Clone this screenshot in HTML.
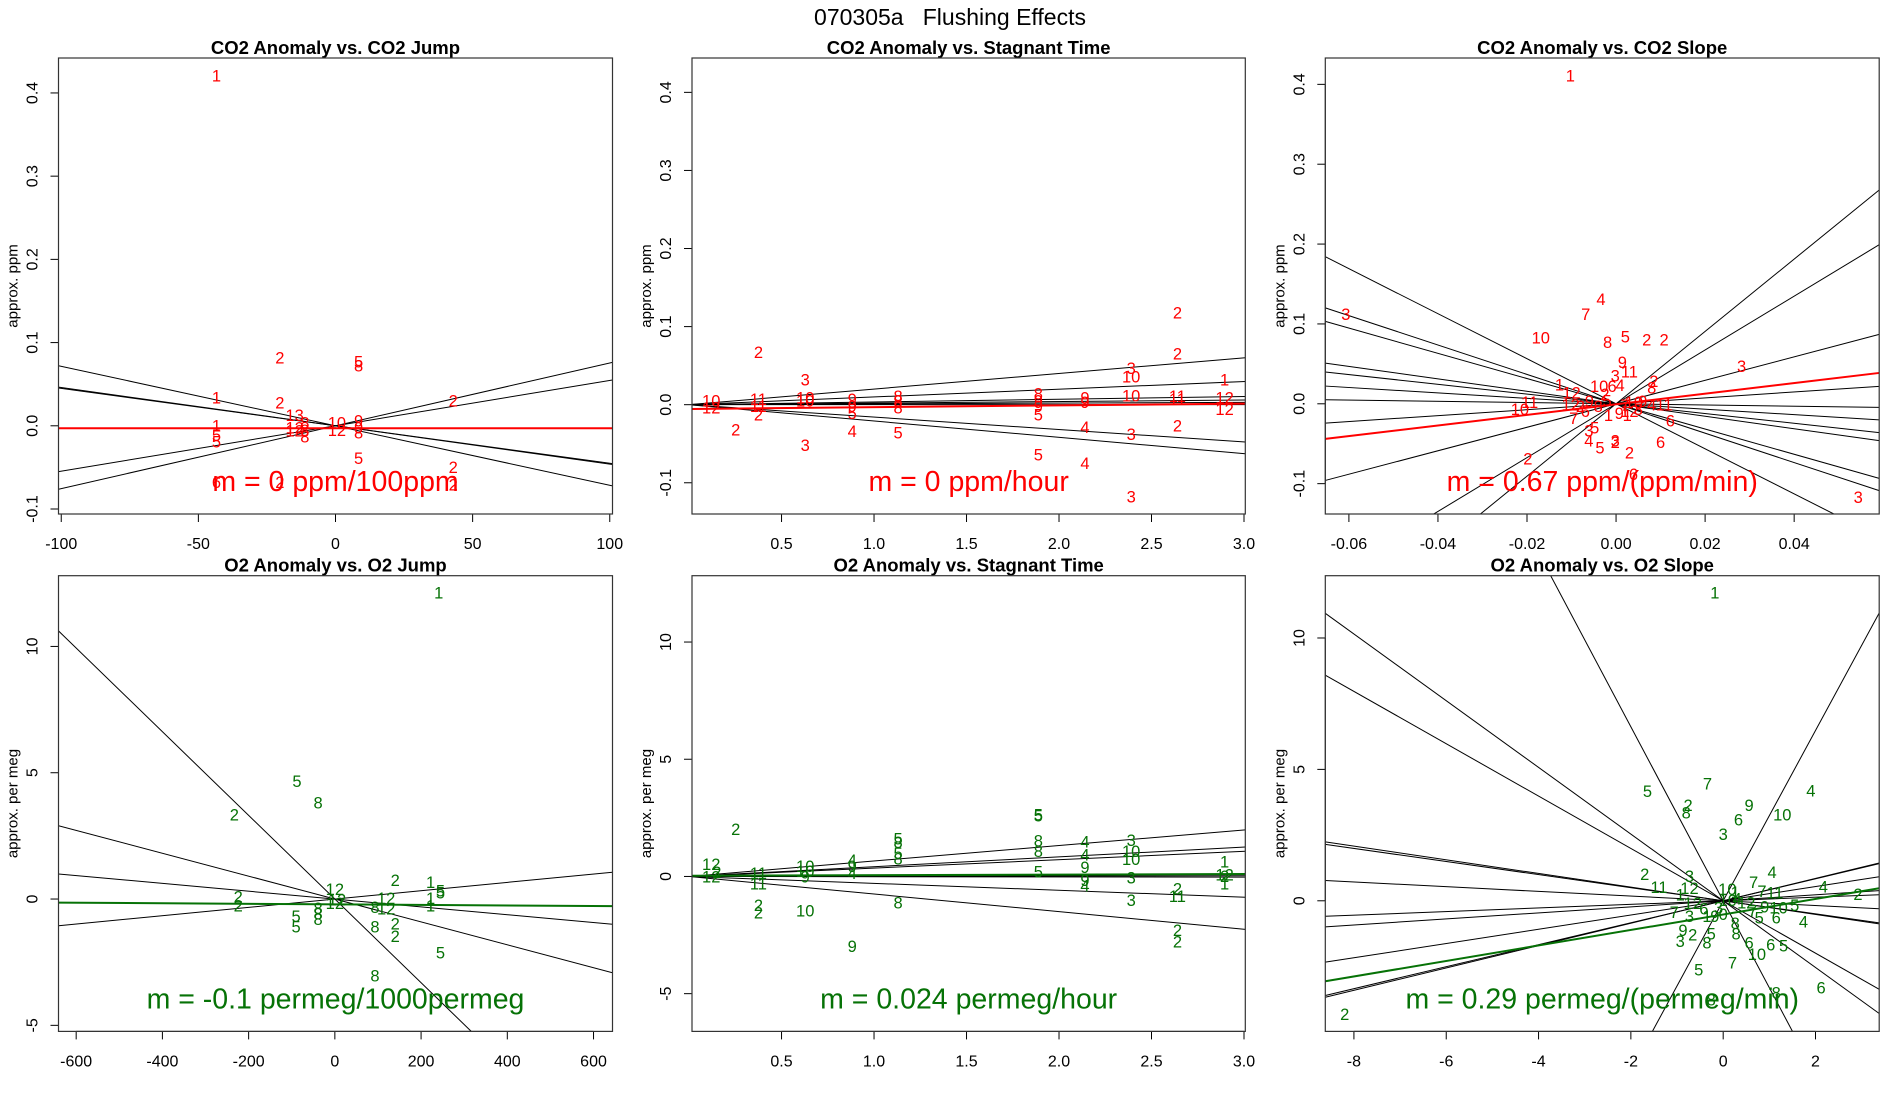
<!DOCTYPE html>
<html><head><meta charset="utf-8"><style>
html,body{margin:0;padding:0;background:#fff;width:1900px;height:1100px;overflow:hidden;}
svg{display:block;font-family:"Liberation Sans",Arial,sans-serif;}
</style></head><body>
<svg id="chart" width="1900" height="1100" viewBox="0 0 1900 1100" xmlns="http://www.w3.org/2000/svg">
<rect x="0" y="0" width="1900" height="1100" fill="#fff"/>
<text x="950" y="25" font-size="23" text-anchor="middle" fill="#000" xml:space="preserve">070305a   Flushing Effects</text>
</svg>
<script>
// ---- Panel 1: CO2 Anomaly vs. CO2 Jump ----
const p1X=[-43.4,-20.3,8.4,8.4,-43.4,-20.3,42.9,-14.9,-43.4,-43.4,-43.4,-14.9,-14.9,-11.2,-11.2,-11.2,0.5,0.5,8.4,8.4,8.4,8.4,42.9,42.9,-43.4,-20.3];
const p1Y=[0.42,0.081,0.076,0.071,0.033,0.027,0.029,0.012,-0.001,-0.012,-0.02,-0.003,-0.007,0.003,-0.014,-0.006,0.003,-0.006,0.005,-0.003,-0.009,-0.04,-0.051,-0.072,-0.069,-0.069];
const p1Lab=["1","2","5","8","1","2","2","13","1","5","5","12","12","8","8","8","10","12","9","9","8","5","2","2","6","2"];
const p1Slopes=[-0.000715,-0.00046,-0.00045,0.000545,0.000755];
const p1Fit=[0,-0.003];
const p1XTicks=[-100,-50,0,50,100];
const p1XTickLabels=["-100","-50","0","50","100"];
const p1YTicks=[-0.1,0,0.1,0.2,0.3,0.4];
const p1YTickLabels=["-0.1","0.0","0.1","0.2","0.3","0.4"];

// ---- Panel 2: CO2 Anomaly vs. Stagnant Time ----
const p2X=[2.64,0.375,2.64,2.39,2.39,0.628,2.895,0.628,0.628,2.39,2.64,2.64,2.895,2.895,0.375,0.375,1.888,1.888,1.888,1.888,2.14,2.14,0.882,0.882,0.882,1.13,1.13,1.13,0.12,0.12,0.375,0.252,0.882,1.13,0.628,2.14,2.39,2.64,1.888,2.14,2.39];
const p2Y=[0.117,0.066,0.064,0.046,0.035,0.031,0.031,0.008,0.004,0.0105,0.01,0.006,0.008,-0.007,0.006,-0.003,0.013,0.004,-0.003,-0.014,0.008,0.002,0.006,-0.003,-0.012,0.01,0.004,-0.005,0.004,-0.005,-0.014,-0.033,-0.035,-0.037,-0.053,-0.030,-0.039,-0.028,-0.065,-0.076,-0.119];
const p2Lab=["2","2","2","3","10","3","1","10","10","10","11","11","12","12","11","11","8","9","9","5","9","9","9","9","5","8","8","8","10","12","2","2","4","5","3","4","3","2","5","4","3"];
const p2Slopes=[0.020,0.0099,0.0035,0.002,0.001,0,-0.0159,-0.0209];
const p2Fit=[0.0023,-0.0055];
const p2XTicks=[0.5,1.0,1.5,2.0,2.5,3.0];
const p2XTickLabels=["0.5","1.0","1.5","2.0","2.5","3.0"];
const p2YTicks=[-0.1,0,0.1,0.2,0.3,0.4];
const p2YTickLabels=["-0.1","0.0","0.1","0.2","0.3","0.4"];

// ---- Panel 3: CO2 Anomaly vs. CO2 Slope ----
const p3X=[-0.01026,-0.0034,-0.0068,-0.0607,-0.0169,-0.0019,0.0021,0.0069,0.0108,0.0014,0.003,0.0282,-0.0002,0.0085,0.008,-0.0127,-0.0038,-0.0009,0.0009,-0.01,-0.0025,-0.0194,-0.0216,-0.0102,-0.0095,-0.0069,-0.0017,0.0007,0.0025,-0.0061,-0.0048,-0.0061,-0.0036,-0.0002,-0.0002,0.003,0.01,0.0122,0.0108,0.008,-0.0198,0.0039,0.0544,-0.006,-0.004,-0.002,0.002,0.004,0.005,0.006,0.003,-0.008];
const p3Y=[0.41,0.130,0.111,0.111,0.082,0.076,0.083,0.079,0.079,0.051,0.039,0.046,0.034,0.0275,0.019,0.023,0.021,0.021,0.022,0.013,0.011,0.001,-0.008,-0.002,-0.019,-0.01,-0.015,-0.013,-0.015,-0.035,-0.031,-0.047,-0.056,-0.047,-0.049,-0.062,-0.049,-0.022,-0.002,-0.002,-0.07,-0.089,-0.118,0.002,-0.004,0.003,-0.003,0.001,-0.008,0.002,-0.01,-0.004];
const p3Lab=["1","4","7","3","10","8","5","2","2","9","11","3","3","2","8","1","10","6","4","12","2","11","10","12","7","6","1","9","1","3","5","4","5","3","2","2","6","6","11","4","2","6","3","9","8","5","7","10","3","9","12","2"];
const p3Slopes=[-2.82,-1.84,-1.58,-0.78,-0.61,-0.34,-0.077,0.37,1.47,3.37,4.53];
const p3Fit=[0.664,-0.0006];
const p3XTicks=[-0.06,-0.04,-0.02,0,0.02,0.04];
const p3XTickLabels=["-0.06","-0.04","-0.02","0.00","0.02","0.04"];
const p3YTicks=[-0.1,0,0.1,0.2,0.3,0.4];
const p3YTickLabels=["-0.1","0.0","0.1","0.2","0.3","0.4"];

// ---- Panel 4: O2 Anomaly vs. O2 Jump ----
const p4X=[241,-88,-39,-233,140,222,245,245,222,222,0,0,119,119,-224,-224,-39,-39,-39,-90,-90,93,93,140,140,245,93,5];
const p4Y=[12.09,4.63,3.78,3.30,0.71,0.64,0.29,0.22,0.0,-0.29,0.36,-0.2,0.0,-0.42,0.07,-0.29,-0.4,-0.62,-0.83,-0.71,-1.12,-0.35,-1.12,-1.0,-1.5,-2.15,-3.06,-0.05];
const p4Lab=["1","5","8","2","2","1","5","5","1","1","12","12","12","12","2","2","8","8","8","5","5","8","8","2","2","5","8","12"];
const p4Slopes=[-0.01656,-0.00453,-0.00155,0.00165];
const p4Fit=[-0.000109,-0.21];
const p4XTicks=[-600,-400,-200,0,200,400,600];
const p4XTickLabels=["-600","-400","-200","0","200","400","600"];
const p4YTicks=[-5,0,5,10];
const p4YTickLabels=["-5","0","5","10"];

// ---- Panel 5: O2 Anomaly vs. Stagnant Time ----
const p5X=[0.252,0.12,0.12,0.15,0.375,0.375,0.375,0.375,0.628,0.628,0.628,0.628,0.882,0.882,0.882,0.882,1.13,1.13,1.13,1.13,1.13,1.888,1.888,1.888,1.888,1.888,2.14,2.14,2.14,2.14,2.14,2.39,2.39,2.39,2.39,2.39,2.64,2.64,2.64,2.64,2.895,2.895,2.895,2.895];
const p5Y=[1.98,0.49,-0.05,0.15,0.11,-0.35,-1.26,-1.57,0.41,0.18,-0.05,-1.49,0.65,0.41,0.11,-3.02,1.57,1.42,0.95,0.72,-1.16,2.59,2.55,1.5,1.04,0.17,1.45,0.9,0.37,-0.2,-0.43,1.52,1.04,0.71,-0.08,-1.04,-0.56,-0.87,-2.33,-2.82,0.59,0.05,-0.02,-0.35];
const p5Lab=["2","12","12","2","11","11","2","2","10","10","9","10","4","9","4","9","5","8","5","8","8","5","5","8","8","5","4","4","9","9","4","3","10","10","3","3","2","11","2","2","1","12","2","1"];
const p5Slopes=[0.66,0.417,0.357,0.035,0.01,-0.01,-0.295,-0.75];
const p5Fit=[0.024,0.03];
const p5XTicks=[0.5,1.0,1.5,2.0,2.5,3.0];
const p5XTickLabels=["0.5","1.0","1.5","2.0","2.5","3.0"];
const p5YTicks=[-5,0,5,10];
const p5YTickLabels=["-5","0","5","10"];

// ---- Panel 6: O2 Anomaly vs. O2 Slope ----
const p6X=[-0.18,-0.34,-1.64,1.90,-0.76,-0.80,0.56,1.28,0.33,0,-1.70,-0.73,1.06,0.66,-1.39,-0.73,0.09,0.26,0.84,1.12,2.17,2.92,-0.93,1.55,-0.66,-0.42,-1.06,-0.73,-0.35,-0.18,0.0,1.15,1.74,0.78,0.64,0.26,0.28,-0.87,-0.66,-0.26,-0.93,-0.35,0.56,1.03,1.31,0.73,0.20,-0.53,2.12,1.15,-0.26,-8.2,0.1,0.3,0.5,0.9,1.2,-0.1];
const p6Y=[11.69,4.42,4.14,4.16,3.6,3.33,3.6,3.24,3.06,2.51,0.98,0.91,1.05,0.68,0.48,0.44,0.41,0.3,0.34,0.27,0.5,0.22,0.2,-0.2,-0.13,-0.34,-0.47,-0.61,-0.61,-0.61,-0.55,-0.68,-0.82,-0.68,-0.41,-0.88,-1.29,-1.15,-1.33,-1.29,-1.56,-1.63,-1.63,-1.70,-1.73,-2.06,-2.38,-2.65,-3.33,-3.53,-3.8,-4.35,0.0,0.05,-0.1,-0.25,-0.3,-0.3];
const p6Lab=["1","7","5","4","2","8","9","10","6","3","2","3","4","7","11","12","10","1","7","11","4","2","1","5","12","6","7","3","1","9","0","6","4","5","7","8","8","9","2","5","3","8","6","6","5","10","7","5","6","8","8","2","10","4","12","9","10","3"];
const p6Slopes=[-3.31,-1.269,-0.996,-0.26,-0.249,-0.0895,0.0684,0.115,0.271,0.418,0.426,3.24];
const p6Fit=[0.295,-0.52];
const p6XTicks=[-8,-6,-4,-2,0,2];
const p6XTickLabels=["-8","-6","-4","-2","0","2"];
const p6YTicks=[-5,0,5,10];
const p6YTickLabels=["-5","0","5","10"];

const RED="#ff0000", GREEN="#067206";
const NS="http://www.w3.org/2000/svg";
const svg=document.getElementById('chart');
function mk(tag,attrs,parent){const e=document.createElementNS(NS,tag);for(const k in attrs)e.setAttribute(k,attrs[k]);(parent||svg).appendChild(e);return e;}

const panels=[
 {id:1,box:[58.5,58,612.5,514],xl:[-101,101],yl:[-0.106,0.442],title:"CO2 Anomaly vs. CO2 Jump",ylab:"approx. ppm",col:RED,m:"m = 0 ppm/100ppm",X:p1X,Y:p1Y,L:p1Lab,S:p1Slopes,F:p1Fit,xt:p1XTicks,xtl:p1XTickLabels,yt:p1YTicks,ytl:p1YTickLabels},
 {id:2,box:[692,58,1245.3,514],xl:[0.016,3.007],yl:[-0.140,0.444],title:"CO2 Anomaly vs. Stagnant Time",ylab:"approx. ppm",col:RED,m:"m = 0 ppm/hour",X:p2X,Y:p2Y,L:p2Lab,S:p2Slopes,F:p2Fit,xt:p2XTicks,xtl:p2XTickLabels,yt:p2YTicks,ytl:p2YTickLabels},
 {id:3,box:[1325.3,58,1879.2,514],xl:[-0.0653,0.0591],yl:[-0.138,0.433],title:"CO2 Anomaly vs. CO2 Slope",ylab:"approx. ppm",col:RED,m:"m = 0.67 ppm/(ppm/min)",X:p3X,Y:p3Y,L:p3Lab,S:p3Slopes,F:p3Fit,xt:p3XTicks,xtl:p3XTickLabels,yt:p3YTicks,ytl:p3YTickLabels},
 {id:4,box:[58.5,575.7,612.5,1031.4],xl:[-641,644],yl:[-5.24,12.8],title:"O2 Anomaly vs. O2 Jump",ylab:"approx. per meg",col:GREEN,m:"m = -0.1 permeg/1000permeg",X:p4X,Y:p4Y,L:p4Lab,S:p4Slopes,F:p4Fit,xt:p4XTicks,xtl:p4XTickLabels,yt:p4YTicks,ytl:p4YTickLabels},
 {id:5,box:[692,575.7,1245.3,1031.4],xl:[0.016,3.007],yl:[-6.61,12.83],title:"O2 Anomaly vs. Stagnant Time",ylab:"approx. per meg",col:GREEN,m:"m = 0.024 permeg/hour",X:p5X,Y:p5Y,L:p5Lab,S:p5Slopes,F:p5Fit,xt:p5XTicks,xtl:p5XTickLabels,yt:p5YTicks,ytl:p5YTickLabels},
 {id:6,box:[1325.3,575.7,1879.2,1031.4],xl:[-8.62,3.38],yl:[-4.97,12.37],title:"O2 Anomaly vs. O2 Slope",ylab:"approx. per meg",col:GREEN,m:"m = 0.29 permeg/(permeg/min)",X:p6X,Y:p6Y,L:p6Lab,S:p6Slopes,F:p6Fit,xt:p6XTicks,xtl:p6XTickLabels,yt:p6YTicks,ytl:p6YTickLabels}
];

panels.forEach(p=>{
 const [l,t,r,b]=p.box;
 const sx=v=>l+(v-p.xl[0])/(p.xl[1]-p.xl[0])*(r-l);
 const sy=v=>b-(v-p.yl[0])/(p.yl[1]-p.yl[0])*(b-t);
 const g=mk('g',{});
 
 
 const cp=mk('clipPath',{id:'clip'+p.id},g);
 mk('rect',{x:l,y:t,width:r-l,height:b-t},cp);
 const ti=mk('text',{x:(l+r)/2,y:t-4,'font-size':18.5,'font-weight':'bold','text-anchor':'middle',fill:'#000'},g);
 ti.textContent=p.title;
 
 
 const yl=mk('text',{x:l-41,y:(t+b)/2,'font-size':15,'text-anchor':'middle',fill:'#000',transform:`rotate(-90 ${l-41} ${(t+b)/2})`},g);
 yl.textContent=p.ylab;
 
 
 const xa=mk('g',{},g);
 
 
 mk('line',{x1:sx(p.xt[0]),x2:sx(p.xt[p.xt.length-1]),y1:b,y2:b,stroke:'#000','stroke-width':1},xa);
 p.xt.forEach((v,i)=>{
  mk('line',{x1:sx(v),x2:sx(v),y1:b,y2:b+8,stroke:'#000','stroke-width':1},xa);
  const tx=mk('text',{x:sx(v),y:b+35,'font-size':16,'text-anchor':'middle',fill:'#000'},xa);
  tx.textContent=p.xtl[i];
  
  
 });
 const ya=mk('g',{},g);
 
 
 const yv=p.yt.filter(v=>v>=p.yl[0]&&v<=p.yl[1]);
 mk('line',{x1:l,x2:l,y1:sy(yv[0]),y2:sy(yv[yv.length-1]),stroke:'#000','stroke-width':1},ya);
 p.yt.forEach((v,i)=>{
  if(v<p.yl[0]||v>p.yl[1])return;
  mk('line',{x1:l-8,x2:l,y1:sy(v),y2:sy(v),stroke:'#000','stroke-width':1},ya);
  const tx=mk('text',{x:l-21,y:sy(v),'font-size':16,'text-anchor':'middle',fill:'#000',transform:`rotate(-90 ${l-21} ${sy(v)})`},ya);
  tx.textContent=p.ytl[i];
  
  
 });
 const pa=mk('g',{'clip-path':`url(#clip${p.id})`},g);
 
 
 const x0=p.xl[0],x1=p.xl[1];
 p.S.forEach(s=>{
  const ln=mk('line',{x1:sx(x0),y1:sy(s*x0),x2:sx(x1),y2:sy(s*x1),stroke:'#000','stroke-width':1},pa);
  
  
 });
 p.X.forEach((xv,i)=>{
  const tx=mk('text',{x:sx(xv),y:sy(p.Y[i]),'font-size':16.5,'text-anchor':'middle','dominant-baseline':'central',fill:p.col},pa);
  tx.textContent=p.L[i];
  
  
 });
 const fl=mk('line',{x1:sx(x0),y1:sy(p.F[0]*x0+p.F[1]),x2:sx(x1),y2:sy(p.F[0]*x1+p.F[1]),stroke:p.col,'stroke-width':2},pa);
 
 
 const mt=mk('text',{x:(l+r)/2,y:b-23,'font-size':28.5,'text-anchor':'middle',fill:p.col},pa);
 mt.textContent=p.m;
 
 
 const bx=mk('rect',{x:l,y:t,width:r-l,height:b-t,fill:'none',stroke:'#333','stroke-width':1.2},g);
 
 
});
</script>
</body></html>
